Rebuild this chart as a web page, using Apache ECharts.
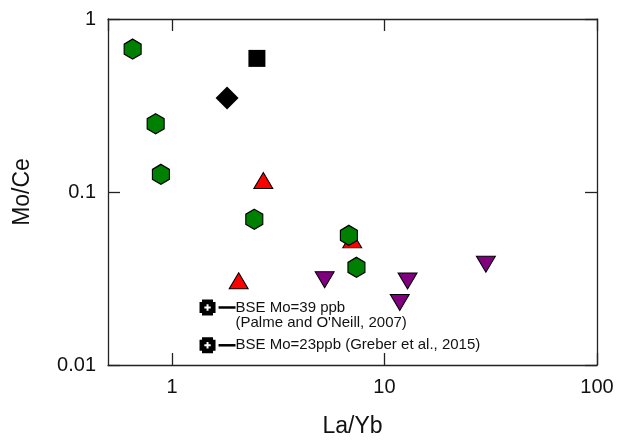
<!DOCTYPE html>
<html>
<head>
<meta charset="utf-8">
<script src="https://cdn.jsdelivr.net/npm/echarts@6/dist/echarts.min.js"></script>
<style>
html,body{margin:0;padding:0;background:#fff;}
#chart{width:618px;height:443px;}
</style>
</head>
<body>
<div id="chart"></div>
<script>
// ---- data ----
var greenX = [0.653, 0.838, 0.887, 2.44, 6.80, 7.38];
var greenY = [0.670, 0.248, 0.1265, 0.0696, 0.0562, 0.0367];
var redX = [2.69, 2.06, 7.05];
var redY = [0.1166, 0.0307, 0.0529];
var purpleX = [5.23, 12.84, 11.8, 30.0];
var purpleY = [0.0311, 0.0306, 0.0230, 0.0382];
var squareX = [2.51];
var squareY = [0.592];
var diamondX = [1.817];
var diamondY = [0.349];
var bseX = [1.47, 1.47];
var bseY = [0.0215, 0.0130];
var bseLabels = [
  ['BSE Mo=39 ppb', "(Palme and O'Neill, 2007)"],
  ['BSE Mo=23ppb (Greber et al., 2015)']
];
var xTickLabels = ['1', '10', '100'];
var yTickLabels = ['0.01', '0.1', '1'];
var xName = 'La/Yb';
var yName = 'Mo/Ce';

function pairs(xs, ys) { return xs.map(function (x, i) { return [x, ys[i]]; }); }

var FONT = 'Liberation Sans';
var HEX = 'path://M50 0 L100 25 L100 75 L50 100 L0 75 L0 25 Z';
var INV_TRI = 'path://M0 0 L100 0 L50 100 Z';
var PLUS_BOX = 'path://M2.5 0 L13.5 0 L13.5 2.5 L16 2.5 L16 13.5 L13.5 13.5 L13.5 16 L2.5 16 L2.5 13.5 L0 13.5 L0 2.5 L2.5 2.5 Z M7 4.8 L7 7 L4.8 7 L4.8 9 L7 9 L7 11.2 L9 11.2 L9 9 L11.2 9 L11.2 7 L9 7 L9 4.8 Z';

function fmtX(v) {
  for (var i = 0; i < xTickLabels.length; i++) {
    if (Math.abs(parseFloat(xTickLabels[i]) - v) < 1e-9 * Math.max(1, v)) return xTickLabels[i];
  }
  return '';
}
function fmtY(v) {
  for (var i = 0; i < yTickLabels.length; i++) {
    if (Math.abs(parseFloat(yTickLabels[i]) - v) < 1e-6 * v) return yTickLabels[i];
  }
  return '';
}

var axisLineStyle = { color: '#222', width: 1.3 };
var tickCfg = { show: true, inside: true, length: 12, lineStyle: { color: '#222', width: 1.3 } };

var bseData = bseX.map(function (x, i) {
  var lines = bseLabels[i];
  var f = '{ln|}{t|' + lines[0] + '}';
  for (var k = 1; k < lines.length; k++) f += '\n{sp|}{t|' + lines[k] + '}';
  return {
    value: [x, bseY[i]],
    label: lines.length > 1 ? { formatter: f, verticalAlign: 'top', offset: [0, -7.5] } : { formatter: f }
  };
});

var chart = echarts.init(document.getElementById('chart'), null, { renderer: 'canvas' });
chart.setOption({
  animation: false,
  backgroundColor: '#fff',
  textStyle: { fontFamily: FONT },
  grid: { left: 108, right: 21, top: 19, bottom: 71, containLabel: false },
  xAxis: [{
    type: 'log', logBase: 10, min: 0.5, max: 100, position: 'bottom',
    name: xName, nameLocation: 'middle', nameGap: 50,
    nameTextStyle: { fontFamily: FONT, fontSize: 23, color: '#111' },
    axisLine: { show: true, onZero: false, lineStyle: axisLineStyle },
    axisTick: tickCfg,
    minorTick: { show: false },
    splitLine: { show: false },
    axisLabel: { formatter: fmtX, fontFamily: FONT, fontSize: 20, color: '#111', margin: 12, showMinLabel: false }
  }, {
    type: 'log', logBase: 10, min: 0.5, max: 100, position: 'top',
    axisLine: { show: true, onZero: false, lineStyle: axisLineStyle },
    axisTick: tickCfg,
    splitLine: { show: false },
    axisLabel: { show: false }
  }],
  yAxis: [{
    type: 'log', logBase: 10, min: 0.01, max: 1, position: 'left',
    name: yName, nameLocation: 'middle', nameGap: 74, nameRotate: 90,
    nameTextStyle: { fontFamily: FONT, fontSize: 23, color: '#111' },
    axisLine: { show: true, onZero: false, lineStyle: axisLineStyle },
    axisTick: tickCfg,
    splitLine: { show: false },
    axisLabel: { formatter: fmtY, fontFamily: FONT, fontSize: 20, color: '#111', margin: 12 }
  }, {
    type: 'log', logBase: 10, min: 0.01, max: 1, position: 'right',
    axisLine: { show: true, onZero: false, lineStyle: axisLineStyle },
    axisTick: tickCfg,
    splitLine: { show: false },
    axisLabel: { show: false }
  }],
  series: [
    {
      type: 'scatter', name: 'red', data: pairs(redX, redY),
      symbol: 'triangle', symbolSize: [19, 16],
      itemStyle: { color: '#ff0000', borderColor: '#000', borderWidth: 1, opacity: 1 }, z: 2
    },
    {
      type: 'scatter', name: 'purple', data: pairs(purpleX, purpleY),
      symbol: INV_TRI, symbolSize: [19, 16],
      itemStyle: { color: '#800080', borderColor: '#000', borderWidth: 1, opacity: 1 }, z: 2
    },
    {
      type: 'scatter', name: 'green', data: pairs(greenX, greenY),
      symbol: HEX, symbolSize: [17, 20], symbolKeepAspect: false,
      itemStyle: { color: '#008000', borderColor: '#000', borderWidth: 1.2, opacity: 1 }, z: 3
    },
    {
      type: 'scatter', name: 'square', data: pairs(squareX, squareY),
      symbol: 'rect', symbolSize: 17,
      itemStyle: { color: '#000', opacity: 1 }, z: 3
    },
    {
      type: 'scatter', name: 'diamond', data: pairs(diamondX, diamondY),
      symbol: 'diamond', symbolSize: 23,
      itemStyle: { color: '#000', opacity: 1 }, z: 3
    },
    {
      type: 'scatter', name: 'BSE', data: bseData,
      symbol: PLUS_BOX, symbolSize: 16,
      itemStyle: { color: '#000', opacity: 1 }, z: 3,
      label: {
        show: true, position: 'right', distance: 3,
        rich: {
          ln: { width: 17, height: 2.5, backgroundColor: '#000' },
          sp: { width: 17, height: 2 },
          t: { fontFamily: FONT, fontSize: 15, lineHeight: 15, color: '#111' }
        }
      },
      emphasis: { disabled: true }
    }
  ]
});
</script>
</body>
</html>
